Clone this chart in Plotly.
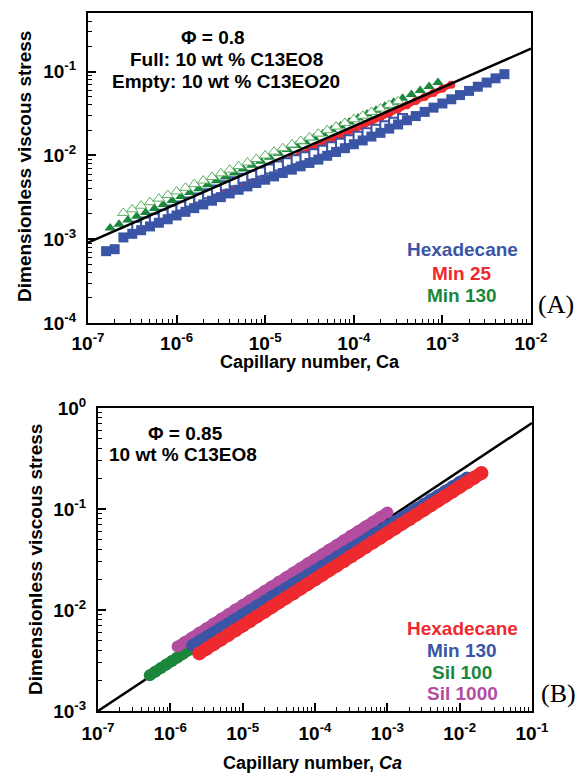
import math
import plotly.graph_objects as go

W, H = 577, 776

# ---------------- Panel A : phi = 0.8 ----------------
hex_full_ca = [1.6e-7, 2.0e-7, 2.51e-7, 3.16e-7, 3.98e-7, 5.01e-7, 6.31e-7, 7.94e-7, 1.0e-6, 1.26e-6,
               1.58e-6, 2.0e-6, 2.51e-6, 3.16e-6, 3.98e-6, 5.01e-6, 6.31e-6, 7.94e-6, 1.0e-5, 1.26e-5,
               1.58e-5, 2.0e-5, 2.51e-5, 3.16e-5, 3.98e-5, 5.01e-5, 6.31e-5, 7.94e-5, 1.0e-4, 1.26e-4,
               1.58e-4, 2.0e-4, 2.51e-4, 3.16e-4, 3.98e-4, 5.01e-4, 6.31e-4, 7.94e-4, 1.0e-3, 1.26e-3,
               1.58e-3, 2.0e-3, 2.51e-3, 3.16e-3, 3.98e-3, 5.01e-3]
hex_full_tau = [7.2e-4, 7.6e-4, 1.05e-3, 1.16e-3, 1.28e-3, 1.42e-3, 1.57e-3, 1.73e-3, 1.92e-3, 2.12e-3,
                2.35e-3, 2.60e-3, 2.88e-3, 3.18e-3, 3.52e-3, 3.89e-3, 4.27e-3, 4.68e-3, 5.13e-3, 5.62e-3,
                6.17e-3, 6.76e-3, 7.41e-3, 8.13e-3, 8.91e-3, 9.9e-3, 1.10e-2, 1.22e-2, 1.36e-2, 1.51e-2,
                1.68e-2, 1.86e-2, 2.09e-2, 2.34e-2, 2.63e-2, 2.95e-2, 3.31e-2, 3.72e-2, 4.17e-2, 4.68e-2,
                5.25e-2, 5.89e-2, 6.61e-2, 7.41e-2, 8.32e-2, 9.33e-2]

hex_empty_ca = [3.55e-7, 4.47e-7, 5.62e-7, 7.08e-7, 8.91e-7, 1.12e-6, 1.41e-6, 1.78e-6, 2.24e-6, 2.82e-6,
                3.55e-6, 4.47e-6, 5.62e-6, 7.08e-6, 8.91e-6, 1.12e-5, 1.41e-5, 1.78e-5, 2.24e-5, 2.82e-5,
                3.55e-5, 4.47e-5, 5.62e-5, 7.08e-5, 8.91e-5, 1.12e-4, 1.41e-4, 1.78e-4, 2.24e-4, 2.82e-4,
                3.55e-4]
hex_empty_tau = [1.43e-3, 1.60e-3, 1.78e-3, 1.99e-3, 2.23e-3, 2.49e-3, 2.78e-3, 3.11e-3, 3.48e-3, 3.88e-3,
                 4.35e-3, 4.85e-3, 5.35e-3, 5.82e-3, 6.34e-3, 6.89e-3, 7.50e-3, 8.17e-3, 8.87e-3, 9.66e-3,
                 1.05e-2, 1.15e-2, 1.27e-2, 1.40e-2, 1.54e-2, 1.69e-2, 1.87e-2, 2.06e-2, 2.26e-2, 2.49e-2,
                 2.75e-2]

min25_ca = [2.51e-6, 3.16e-6, 3.98e-6, 5.01e-6, 6.31e-6, 7.94e-6, 1.0e-5, 1.26e-5, 1.58e-5, 2.0e-5,
            2.51e-5, 3.16e-5, 3.98e-5, 5.01e-5, 6.31e-5, 7.94e-5, 1.0e-4, 1.26e-4, 1.58e-4, 2.0e-4,
            2.51e-4, 3.16e-4, 3.98e-4, 5.01e-4, 6.31e-4, 7.94e-4, 1.0e-3, 1.26e-3]
min25_tau = [3.33e-3, 3.72e-3, 4.17e-3, 4.67e-3, 5.22e-3, 5.85e-3, 6.55e-3, 7.33e-3, 8.20e-3, 9.18e-3,
             1.03e-2, 1.15e-2, 1.29e-2, 1.44e-2, 1.61e-2, 1.81e-2, 2.02e-2, 2.26e-2, 2.54e-2, 2.84e-2,
             3.18e-2, 3.56e-2, 3.98e-2, 4.46e-2, 4.99e-2, 5.58e-2, 6.25e-2, 7.00e-2]

min130_full_ca = [1.78e-7, 2.24e-7, 2.82e-7, 3.55e-7, 4.47e-7, 5.62e-7, 7.08e-7, 8.91e-7, 1.12e-6, 1.41e-6,
                  1.78e-6, 2.24e-6, 2.82e-6, 3.55e-6, 4.47e-6, 5.62e-6, 7.08e-6, 8.91e-6, 1.12e-5, 1.41e-5,
                  1.78e-5, 2.24e-5, 2.82e-5, 3.55e-5, 4.47e-5, 5.62e-5, 7.08e-5, 8.91e-5, 1.12e-4, 1.41e-4,
                  1.78e-4, 2.24e-4, 2.82e-4, 3.55e-4, 4.47e-4, 5.62e-4, 7.08e-4, 8.91e-4]
min130_full_tau = [1.36e-3, 1.51e-3, 1.69e-3, 1.88e-3, 2.09e-3, 2.33e-3, 2.60e-3, 2.90e-3, 3.23e-3, 3.60e-3,
                   4.00e-3, 4.46e-3, 4.97e-3, 5.53e-3, 6.17e-3, 6.87e-3, 7.66e-3, 8.53e-3, 9.51e-3, 1.06e-2,
                   1.18e-2, 1.31e-2, 1.46e-2, 1.63e-2, 1.82e-2, 2.02e-2, 2.25e-2, 2.51e-2, 2.80e-2, 3.12e-2,
                   3.47e-2, 3.87e-2, 4.31e-2, 4.80e-2, 5.35e-2, 5.96e-2, 6.64e-2, 7.40e-2]

min130_empty_ca = [2.51e-7, 3.16e-7, 3.98e-7, 5.01e-7, 6.31e-7, 7.94e-7, 1.0e-6, 1.26e-6, 1.58e-6, 2.0e-6,
                   2.51e-6, 3.16e-6, 3.98e-6, 5.01e-6, 6.31e-6, 7.94e-6, 1.0e-5, 1.26e-5, 1.58e-5, 2.0e-5,
                   2.51e-5, 3.16e-5, 3.98e-5, 5.01e-5, 6.31e-5, 7.94e-5, 1.0e-4, 1.26e-4, 1.58e-4, 2.0e-4,
                   2.51e-4, 3.16e-4]
min130_empty_tau = [2.06e-3, 2.27e-3, 2.51e-3, 2.77e-3, 3.05e-3, 3.37e-3, 3.72e-3, 4.11e-3, 4.54e-3, 5.01e-3,
                    5.53e-3, 6.11e-3, 6.75e-3, 7.45e-3, 8.22e-3, 9.08e-3, 1.00e-2, 1.11e-2, 1.22e-2, 1.35e-2,
                    1.49e-2, 1.64e-2, 1.82e-2, 2.00e-2, 2.21e-2, 2.44e-2, 2.70e-2, 2.98e-2, 3.29e-2, 3.63e-2,
                    4.01e-2, 4.43e-2]

fit_a_ca = [1e-7, 1e-2]
fit_a_tau = [9.1e-4, 1.88e-1]

# ---------------- Panel B : phi = 0.85 ----------------
hexB_ca = [2.51e-6, 3.16e-6, 3.98e-6, 5.01e-6, 6.31e-6, 7.94e-6, 1.0e-5, 1.26e-5, 1.58e-5, 2.0e-5,
           2.51e-5, 3.16e-5, 3.98e-5, 5.01e-5, 6.31e-5, 7.94e-5, 1.0e-4, 1.26e-4, 1.58e-4, 2.0e-4,
           2.51e-4, 3.16e-4, 3.98e-4, 5.01e-4, 6.31e-4, 7.94e-4, 1.0e-3, 1.26e-3, 1.58e-3, 2.0e-3,
           2.51e-3, 3.16e-3, 3.98e-3, 5.01e-3, 6.31e-3, 7.94e-3, 1.0e-2, 1.26e-2, 1.58e-2, 2.0e-2]
hexB_tau = [3.72e-3, 4.13e-3, 4.59e-3, 5.09e-3, 5.66e-3, 6.30e-3, 7.00e-3, 7.78e-3, 8.64e-3, 9.59e-3,
            1.07e-2, 1.19e-2, 1.32e-2, 1.46e-2, 1.63e-2, 1.81e-2, 2.01e-2, 2.23e-2, 2.48e-2, 2.75e-2,
            3.06e-2, 3.40e-2, 3.78e-2, 4.20e-2, 4.67e-2, 5.19e-2, 5.77e-2, 6.41e-2, 7.12e-2, 7.91e-2,
            8.79e-2, 9.77e-2, 1.09e-1, 1.21e-1, 1.34e-1, 1.49e-1, 1.66e-1, 1.84e-1, 2.04e-1, 2.27e-1]

min130B_ca = [2.0e-6, 2.51e-6, 3.16e-6, 3.98e-6, 5.01e-6, 6.31e-6, 7.94e-6, 1.0e-5, 1.26e-5, 1.58e-5,
              2.0e-5, 2.51e-5, 3.16e-5, 3.98e-5, 5.01e-5, 6.31e-5, 7.94e-5, 1.0e-4, 1.26e-4, 1.58e-4,
              2.0e-4, 2.51e-4, 3.16e-4, 3.98e-4, 5.01e-4, 6.31e-4, 7.94e-4, 1.0e-3, 1.26e-3, 1.58e-3,
              2.0e-3, 2.51e-3, 3.16e-3, 3.98e-3, 5.01e-3, 6.31e-3, 7.94e-3, 1.0e-2, 1.26e-2]
min130B_tau = [4.48e-3, 4.95e-3, 5.48e-3, 6.06e-3, 6.70e-3, 7.41e-3, 8.20e-3, 9.06e-3, 1.00e-2, 1.11e-2,
               1.23e-2, 1.36e-2, 1.50e-2, 1.66e-2, 1.83e-2, 2.03e-2, 2.24e-2, 2.48e-2, 2.74e-2, 3.03e-2,
               3.36e-2, 3.71e-2, 4.10e-2, 4.54e-2, 5.01e-2, 5.55e-2, 6.14e-2, 6.78e-2, 7.50e-2, 8.30e-2,
               9.18e-2, 1.01e-1, 1.12e-1, 1.24e-1, 1.37e-1, 1.52e-1, 1.68e-1, 1.86e-1, 2.05e-1]

sil100_ca = [5.2e-7, 6.2e-7, 7.4e-7, 8.8e-7, 1.05e-6, 1.25e-6, 1.5e-6, 1.8e-6, 2.1e-6]
sil100_tau = [2.26e-3, 2.45e-3, 2.66e-3, 2.88e-3, 3.13e-3, 3.39e-3, 3.68e-3, 4.01e-3, 4.30e-3]

sil1000_ca = [1.26e-6, 1.58e-6, 2.0e-6, 2.51e-6, 3.16e-6, 3.98e-6, 5.01e-6, 6.31e-6, 7.94e-6, 1.0e-5,
              1.26e-5, 1.58e-5, 2.0e-5, 2.51e-5, 3.16e-5, 3.98e-5, 5.01e-5, 6.31e-5, 7.94e-5, 1.0e-4,
              1.26e-4, 1.58e-4, 2.0e-4, 2.51e-4, 3.16e-4, 3.98e-4, 5.01e-4, 6.31e-4, 7.94e-4, 1.0e-3]
sil1000_tau = [4.34e-3, 4.82e-3, 5.35e-3, 5.95e-3, 6.61e-3, 7.35e-3, 8.17e-3, 9.07e-3, 1.01e-2, 1.12e-2,
               1.25e-2, 1.38e-2, 1.54e-2, 1.71e-2, 1.90e-2, 2.11e-2, 2.34e-2, 2.61e-2, 2.90e-2, 3.22e-2,
               3.57e-2, 3.97e-2, 4.41e-2, 4.91e-2, 5.46e-2, 6.06e-2, 6.73e-2, 7.48e-2, 8.32e-2, 9.25e-2]

fit_b_ca = [1e-7, 1e-1]
fit_b_tau = [1e-3, 0.71]

xticks_a = [1e-7, 1e-6, 1e-5, 1e-4, 1e-3, 1e-2]
yticks_a = [1e-4, 1e-3, 1e-2, 1e-1]
xticks_b = [1e-7, 1e-6, 1e-5, 1e-4, 1e-3, 1e-2, 1e-1]
yticks_b = [1e-3, 1e-2, 1e-1, 1e0]

BLUE = "#3a55a6"
RED = "#ee2a2f"
GREEN = "#1b873c"
LIGHT_GREEN = "#5aae63"
MAGENTA = "#b24d9f"
FONT = "Liberation Sans"


def pow_labels(vals):
    return [f"10<sup>{int(round(math.log10(v)))}</sup>" for v in vals]


fig = go.Figure()

# panel A traces (drawn bottom to top)
fig.add_trace(go.Scatter(x=min25_ca, y=min25_tau, mode="lines+markers", xaxis="x", yaxis="y",
                         line=dict(color=RED, width=6),
                         marker=dict(symbol="circle", size=8, color=RED, line=dict(width=0))))
fig.add_trace(go.Scatter(x=hex_empty_ca, y=hex_empty_tau, mode="markers", xaxis="x", yaxis="y",
                         marker=dict(symbol="square", size=9, color="white",
                                     line=dict(color=BLUE, width=2))))
fig.add_trace(go.Scatter(x=hex_full_ca, y=hex_full_tau, mode="markers", xaxis="x", yaxis="y",
                         marker=dict(symbol="square", size=10, color=BLUE, line=dict(width=0))))
fig.add_trace(go.Scatter(x=min130_full_ca, y=min130_full_tau, mode="markers", xaxis="x", yaxis="y",
                         marker=dict(symbol="triangle-up", size=10, color=GREEN, line=dict(width=0))))
fig.add_trace(go.Scatter(x=min130_empty_ca, y=min130_empty_tau, mode="markers", xaxis="x", yaxis="y",
                         marker=dict(symbol="triangle-up", size=10, color="white",
                                     line=dict(color=LIGHT_GREEN, width=1))))
fig.add_trace(go.Scatter(x=fit_a_ca, y=fit_a_tau, mode="lines", xaxis="x", yaxis="y",
                         line=dict(color="black", width=2.5)))

# panel B traces
fig.add_trace(go.Scatter(x=fit_b_ca, y=fit_b_tau, mode="lines", xaxis="x2", yaxis="y2",
                         line=dict(color="black", width=2.5)))
band = [
    (sil100_ca, sil100_tau, GREEN, 12),
    (sil1000_ca, sil1000_tau, MAGENTA, 12),
    (min130B_ca, min130B_tau, BLUE, 12),
    (hexB_ca, hexB_tau, RED, 14),
]
for cx, ty, col, sz in band:
    fig.add_trace(go.Scatter(x=cx, y=ty, mode="lines+markers", xaxis="x2", yaxis="y2",
                             line=dict(color=col, width=sz - 1),
                             marker=dict(symbol="circle", size=sz, color=col, line=dict(width=0))))


def px_x(p):
    return p / W


def px_y(p):
    return 1 - p / H


tick_font = dict(family=FONT, size=19, color="black", weight="bold")


def axis(domain, rng, vals, anchor, standoff):
    return dict(type="log", domain=domain, range=rng, anchor=anchor,
                tickmode="array", tickvals=vals, ticktext=pow_labels(vals),
                ticks="inside", ticklen=8, tickwidth=1.5, tickcolor="black",
                minor=dict(ticks="inside", ticklen=4, tickwidth=1.2, tickcolor="black", dtick="D1"),
                showline=True, linewidth=2, linecolor="black", mirror=True,
                showgrid=False, zeroline=False, tickfont=tick_font,
                ticklabelstandoff=standoff, automargin=False)


fig.update_layout(
    width=W, height=H, margin=dict(l=0, r=0, t=0, b=0),
    paper_bgcolor="white", plot_bgcolor="white", showlegend=False,
    xaxis=axis([px_x(88), px_x(531)], [-7, -2], xticks_a, "y", 2),
    yaxis=axis([px_y(323), px_y(13)], [-4, -0.30], yticks_a, "x", 6),
    xaxis2=axis([px_x(98), px_x(532)], [-7, -1], xticks_b, "y2", 4),
    yaxis2=axis([px_y(711), px_y(408)], [-3, 0], yticks_b, "x2", 6),
)

ann = []


def text(x, y, s, color="black", size=19, family=FONT, bold=True, angle=0):
    ann.append(dict(x=px_x(x), y=px_y(y), xref="paper", yref="paper", text=s, showarrow=False,
                    xanchor="center", yanchor="middle", textangle=angle,
                    font=dict(family=family, size=size, color=color,
                              weight="bold" if bold else "normal")))


# panel A text
text(213, 37, "Φ = 0.8")
text(226, 60, "Full: 10 wt % C13EO8")
text(226, 82, "Empty: 10 wt % C13EO20")
text(462, 250, "Hexadecane", BLUE)
text(462, 273, "Min 25", RED)
text(462, 295, "Min 130", GREEN)
text(556, 305, "(A)", size=26, family="Liberation Serif", bold=False)
text(24, 167, "Dimensionless viscous stress", angle=-90)
text(310, 362, "Capillary number, Ca", size=18)

# panel B text
text(185, 433, "Φ = 0.85")
text(183, 454, "10 wt % C13EO8")
text(462, 628, "Hexadecane", RED)
text(462, 650, "Min 130", BLUE)
text(462, 672, "Sil 100", GREEN)
text(462, 693, "Sil 1000", MAGENTA)
text(558, 693, "(B)", size=26, family="Liberation Serif", bold=False)
text(35, 560, "Dimensionless viscous stress", angle=-90)
text(312, 763, "Capillary number, <i>Ca</i>", size=18)

fig.update_layout(annotations=ann)
fig.write_html("out.html")
